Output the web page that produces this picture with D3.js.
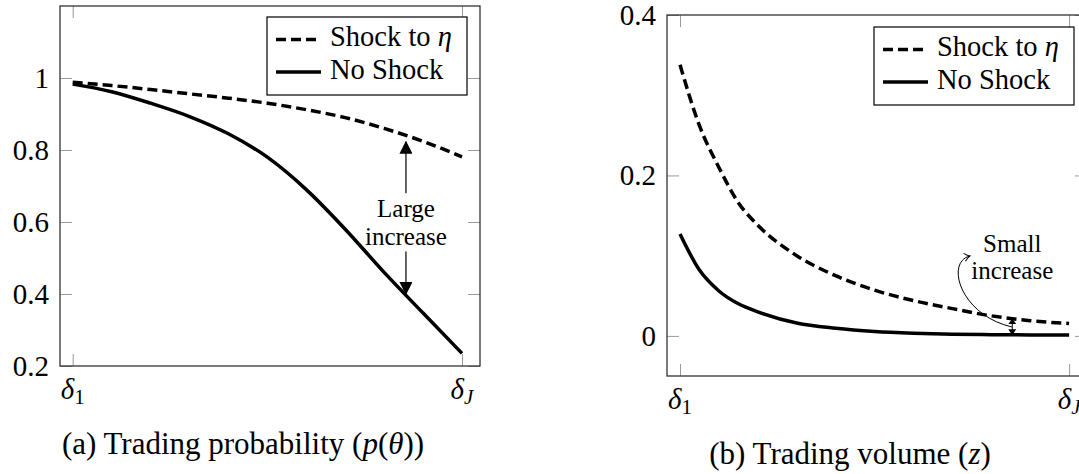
<!DOCTYPE html>
<html>
<head>
<meta charset="utf-8">
<script src="https://d3js.org/d3.v7.min.js"></script>
<style>
    body { margin: 0; background: #fff; }
    svg { display: block; }
    .axis .tick line { stroke: #999; stroke-width: 1; }
    .frame { fill: none; stroke: #333; stroke-width: 1.3; }
    .curve { fill: none; stroke: #000; stroke-width: 3.5; }
    .dashed { stroke-dasharray: 10, 5; }
</style>
</head>
<body>
<svg id="chart" width="1079" height="474"></svg>
<script>
// Values (x runs from delta_1 = 0 to delta_J = 1)
var probX       = [0, 0.1, 0.2, 0.3, 0.4, 0.5, 0.6, 0.7, 0.8, 0.9, 1];
var probShock   = [0.988, 0.979, 0.968, 0.956, 0.944, 0.93, 0.912, 0.89, 0.86, 0.824, 0.781];
var probNoShock = [0.983, 0.962, 0.93, 0.893, 0.845, 0.78, 0.69, 0.58, 0.46, 0.347, 0.235];

var volX       = [0, 0.05, 0.1, 0.15, 0.2, 0.3, 0.4, 0.5, 0.6, 0.7, 0.8, 0.9, 1];
var volShock   = [0.338, 0.262, 0.21, 0.166, 0.138, 0.1, 0.075, 0.057, 0.044, 0.034, 0.025, 0.019, 0.0154];
var volNoShock = [0.127, 0.082, 0.056, 0.04, 0.03, 0.016, 0.0095, 0.0055, 0.0033, 0.002, 0.0015, 0.0012, 0.001];

var probYTicks = [0.2, 0.4, 0.6, 0.8, 1];
var volYTicks  = [0, 0.2, 0.4];
var xTicks     = [0, 1];
var xTickSubs  = ["1", "J"];

var FONT = "Liberation Serif";
var svg = d3.select("#chart").attr("font-family", FONT);

// arrow heads
var defs = svg.append("defs");
defs.append("marker").attr("id", "big")
    .attr("viewBox", "0 -6.5 13 13").attr("refX", 12).attr("refY", 0)
    .attr("markerUnits", "userSpaceOnUse").attr("markerWidth", 13).attr("markerHeight", 13)
    .attr("orient", "auto")
    .append("path").attr("d", "M0,-6.5L13,0L0,6.5Z").attr("fill", "#000");
defs.append("marker").attr("id", "small")
    .attr("viewBox", "0 -4 6 8").attr("refX", 5.5).attr("refY", 0)
    .attr("markerUnits", "userSpaceOnUse").attr("markerWidth", 6).attr("markerHeight", 8)
    .attr("orient", "auto-start-reverse")
    .append("path").attr("d", "M0,-4L6,0L0,4Z").attr("fill", "#000");
defs.append("marker").attr("id", "open")
    .attr("viewBox", "-7 -5 8 10").attr("refX", 0).attr("refY", 0)
    .attr("markerUnits", "userSpaceOnUse").attr("markerWidth", 8).attr("markerHeight", 10)
    .attr("orient", "auto")
    .append("path").attr("d", "M-5.5,-4C-3,-1.5 -1,-0.3 0,0C-1,0.3 -3,1.5 -5.5,4")
    .attr("fill", "none").attr("stroke", "#000").attr("stroke-width", 1);

function noDomain(a) {
    a.select(".domain").remove();
    a.attr("font-family", FONT).attr("font-size", 29);
    a.selectAll("text").attr("fill", "#000");
}

function drawPanel(p) {
    var g = svg.append("g");
    var x = d3.scaleLinear().domain(p.xDomain).range([p.left, p.right]);
    var y = d3.scaleLinear().domain(p.yDomain).range([p.bottom, p.top]);

    // ticks on all four sides, pointing inwards
    g.append("g").attr("class", "axis").attr("transform", "translate(" + p.left + ",0)")
        .call(d3.axisLeft(y).tickValues(p.yTicks).tickSize(-12).tickPadding(11).tickFormat(d3.format("")))
        .call(noDomain);
    g.append("g").attr("class", "axis").attr("transform", "translate(" + p.right + ",0)")
        .call(d3.axisRight(y).tickValues(p.yTicks).tickSize(-12).tickFormat(""))
        .call(noDomain);
    g.append("g").attr("class", "axis").attr("transform", "translate(0," + p.bottom + ")")
        .call(d3.axisBottom(x).tickValues(xTicks).tickSize(-12).tickFormat(""))
        .call(noDomain);
    g.append("g").attr("class", "axis").attr("transform", "translate(0," + p.top + ")")
        .call(d3.axisTop(x).tickValues(xTicks).tickSize(-12).tickFormat(""))
        .call(noDomain);

    // delta_1 ... delta_J
    xTicks.forEach(function(t, i) {
        var lab = g.append("text").attr("x", x(t)).attr("y", p.bottom + 33)
            .attr("text-anchor", "middle").attr("font-size", 29);
        lab.append("tspan").attr("font-style", "italic").text("δ");
        lab.append("tspan").attr("font-size", 21).attr("dy", 5)
            .attr("font-style", i === 1 ? "italic" : "normal").text(xTickSubs[i]);
    });

    g.append("rect").attr("class", "frame")
        .attr("x", p.left).attr("y", p.top)
        .attr("width", p.right - p.left).attr("height", p.bottom - p.top);

    var line = d3.line()
        .x(function(d) { return x(d[0]); })
        .y(function(d) { return y(d[1]); })
        .curve(d3.curveMonotoneX);

    g.append("path").datum(d3.zip(p.xs, p.noShock)).attr("class", "curve").attr("d", line);
    g.append("path").datum(d3.zip(p.xs, p.shock)).attr("class", "curve dashed").attr("d", line);

    // legend
    var lg = g.append("g").attr("transform", "translate(" + p.legend[0] + "," + p.legend[1] + ")");
    lg.append("rect").attr("width", 200).attr("height", 78)
        .attr("fill", "#fff").attr("stroke", "#000").attr("stroke-width", 1.2);
    lg.append("line").attr("class", "curve dashed").attr("x1", 9).attr("x2", 54).attr("y1", 22.5).attr("y2", 22.5);
    lg.append("line").attr("class", "curve").attr("x1", 9).attr("x2", 54).attr("y1", 55).attr("y2", 55);
    var t1 = lg.append("text").attr("x", 63).attr("y", 28.5).attr("font-size", 28.5);
    t1.append("tspan").text("Shock to ");
    t1.append("tspan").attr("font-style", "italic").text("η");
    lg.append("text").attr("x", 63).attr("y", 61.5).attr("font-size", 28.5).text("No Shock");

    // caption
    var cap = svg.append("text").attr("x", p.caption[0]).attr("y", p.caption[1])
        .attr("text-anchor", "middle").attr("font-size", 31);
    p.captionParts.forEach(function(c) {
        cap.append("tspan").attr("font-style", c[1] ? "italic" : "normal").text(c[0]);
    });

    return {g: g, x: x, y: y};
}

function note(panel, xv, yv, txt) {
    panel.g.append("text").attr("x", panel.x(xv)).attr("y", panel.y(yv))
        .attr("text-anchor", "middle").attr("font-size", 25).text(txt);
}

// (a) trading probability
var a = drawPanel({
    left: 60, right: 480, top: 6, bottom: 366,
    xDomain: [-0.0326, 1.0462], yDomain: [0.2, 1.2],
    yTicks: probYTicks, xs: probX, shock: probShock, noShock: probNoShock,
    legend: [267, 17], caption: [243, 454],
    captionParts: [["(a) Trading probability (", false], ["p", true], ["(", false], ["θ", true], ["))", false]]
});
var ax = a.x(0.856);
a.g.append("line").attr("x1", ax).attr("x2", ax).attr("y1", a.y(0.68)).attr("y2", a.y(0.823))
    .attr("stroke", "#000").attr("stroke-width", 1.2).attr("marker-end", "url(#big)");
a.g.append("line").attr("x1", ax).attr("x2", ax).attr("y1", a.y(0.518)).attr("y2", a.y(0.4))
    .attr("stroke", "#000").attr("stroke-width", 1.2).attr("marker-end", "url(#big)");
note(a, 0.856, 0.614, "Large");
note(a, 0.856, 0.536, "increase");

// (b) trading volume
var b = drawPanel({
    left: 667, right: 1087, top: 15, bottom: 376,
    xDomain: [-0.0334, 1.046], yDomain: [-0.05, 0.4],
    yTicks: volYTicks, xs: volX, shock: volShock, noShock: volNoShock,
    legend: [874, 27], caption: [850, 464],
    captionParts: [["(b) Trading volume (", false], ["z", true], [")", false]]
});
var bx = b.x(0.854);
b.g.append("line").attr("x1", bx).attr("x2", bx).attr("y1", b.y(0.0215)).attr("y2", b.y(0.0015))
    .attr("stroke", "#000").attr("stroke-width", 1)
    .attr("marker-start", "url(#small)").attr("marker-end", "url(#small)");
var bend = [[0.853, 0.0111], [0.72, 0.026], [0.681, 0.092], [0.745, 0.0996]];
b.g.append("path")
    .attr("d", "M" + b.x(bend[0][0]) + "," + b.y(bend[0][1]) +
        "C" + bend.slice(1).map(function(d) { return b.x(d[0]) + "," + b.y(d[1]); }).join(" "))
    .attr("fill", "none").attr("stroke", "#000").attr("stroke-width", 1).attr("marker-end", "url(#open)");
note(b, 0.854, 0.1046, "Small");
note(b, 0.854, 0.0709, "increase");
</script>
</body>
</html>
